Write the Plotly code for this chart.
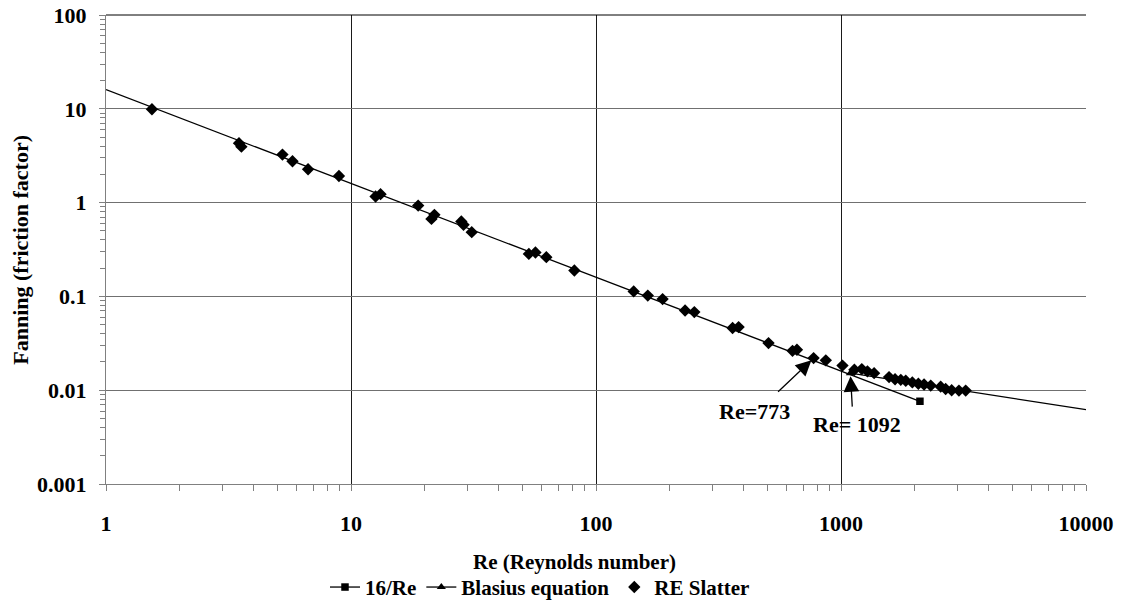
import math
import plotly.graph_objects as go

# Laminar line 16/Re (end point marked)
re_lam = [2100, 1]
f_lam = [0.00762, 16]

# Blasius equation line (start point marked)
re_bla = [1092, 10000]
f_bla = [0.0152, 0.0062]

# RE Slatter measurements
re_slatter = [1.54, 3.49, 3.57, 5.25, 5.77, 6.68, 8.93, 12.6, 13.2, 18.8,
              21.3, 21.9, 28.2, 28.8, 31.1, 53.2, 56.6, 62.7, 81.6, 142.5,
              162.7, 187, 231, 252, 361, 382, 506, 634, 661, 773,
              867, 1014, 1134, 1216, 1282, 1365, 1571, 1662, 1754, 1838,
              1955, 2069, 2183, 2324, 2552, 2674, 2829, 3030, 3228]
f_slatter = [9.88, 4.3, 3.95, 3.25, 2.76, 2.27, 1.92, 1.16, 1.23, 0.93,
             0.67, 0.74, 0.628, 0.58, 0.484, 0.284, 0.294, 0.262, 0.189, 0.113,
             0.102, 0.0936, 0.0708, 0.068, 0.046, 0.0471, 0.0318, 0.0263, 0.027, 0.022,
             0.0208, 0.0183, 0.0165, 0.0168, 0.0159, 0.0152, 0.0138, 0.0131, 0.0129, 0.0126,
             0.0121, 0.0117, 0.0115, 0.0112, 0.0109, 0.0103, 0.0100, 0.0099, 0.0099]

x_ticks = [1, 10, 100, 1000, 10000]
x_labels = ["1", "10", "100", "1000", "10000"]
y_ticks = [0.001, 0.01, 0.1, 1, 10, 100]
y_labels = ["0.001", "0.01", "0.1", "1", "10", "100"]

# (Re, f) pairs called out with arrows
callouts = [("Re=773", 773, 0.022), ("Re= 1092", 1092, 0.0152)]

FONT = "Liberation Serif"
BLACK = "#000000"
HIDDEN = "rgba(0,0,0,0)"

fig = go.Figure()

fig.add_trace(go.Scatter(
    x=re_lam, y=f_lam, name="16/Re", mode="lines+markers",
    line=dict(color=BLACK, width=1.3),
    marker=dict(symbol="square", size=7.5, color=[BLACK, HIDDEN], line=dict(width=0)),
))
fig.add_trace(go.Scatter(
    x=re_bla, y=f_bla, name="Blasius equation", mode="lines+markers",
    line=dict(color=BLACK, width=1.3),
    marker=dict(symbol="triangle-up", size=8, color=[BLACK, HIDDEN], line=dict(width=0)),
))
fig.add_trace(go.Scatter(
    x=re_slatter, y=f_slatter, name="RE Slatter", mode="markers",
    marker=dict(symbol="diamond", size=9.5, color=BLACK, line=dict(width=0)),
))

minor_x = [m * 10 ** d for d in range(0, 4) for m in range(2, 10)]
minor_y = [m * 10 ** d for d in range(-3, 2) for m in range(2, 10)]

tick_font = dict(family=FONT, size=22, color=BLACK, weight="bold")

fig.update_xaxes(
    type="log", range=[0, 4],
    tickmode="array", tickvals=x_ticks, ticktext=x_labels,
    tickfont=tick_font, ticks="outside", ticklen=6, tickcolor="#808080",
    ticklabelstandoff=14,
    showline=True, linecolor="#808080", linewidth=1,
    showgrid=True, gridcolor="#1a1a1a", gridwidth=1, zeroline=False,
    minor=dict(tickmode="array", tickvals=minor_x, ticks="outside", ticklen=6,
               tickcolor="#808080", showgrid=False),
)
fig.update_yaxes(
    type="log", range=[-3, 2],
    tickmode="array", tickvals=y_ticks, ticktext=y_labels,
    tickfont=tick_font, ticks="outside", ticklen=6, tickcolor="#808080",
    ticklabelstandoff=8,
    showline=True, linecolor="#808080", linewidth=1,
    showgrid=True, gridcolor="#707070", gridwidth=1, zeroline=False,
    minor=dict(tickmode="array", tickvals=minor_y, ticks="outside", ticklen=5,
               tickcolor="#808080", showgrid=False),
)

annotations = []
arrow_offsets = [(-37, 35), (2, 35)]
label_offsets = [(-59, 53), (7, 51)]
for (label, re_v, f_v), (ax, ay), (lx, ly) in zip(callouts, arrow_offsets, label_offsets):
    annotations.append(dict(
        x=math.log10(re_v), y=math.log10(f_v),
        xref="x", yref="y", text="", showarrow=True,
        ax=ax, ay=ay, arrowhead=2, arrowsize=2.4, arrowwidth=1.3,
        arrowcolor=BLACK, standoff=3,
    ))
    annotations.append(dict(
        x=math.log10(re_v), y=math.log10(f_v),
        xref="x", yref="y", text=label, showarrow=False,
        xshift=lx, yshift=-ly,
        font=dict(family=FONT, size=22, color=BLACK, weight="bold"),
    ))

annotations.append(dict(
    text="Re (Reynolds number)", xref="paper", yref="paper",
    x=(574 - 106) / 980, y=(484.5 - 563) / 469.5, showarrow=False,
    xanchor="center", yanchor="middle",
    font=dict(family=FONT, size=21, color=BLACK, weight="bold"),
))
annotations.append(dict(
    text="Fanning (friction factor)", xref="paper", yref="paper",
    x=(21 - 106) / 980, y=(484.5 - 250) / 469.5, showarrow=False,
    textangle=-90, xanchor="center", yanchor="middle",
    font=dict(family=FONT, size=22, color=BLACK, weight="bold"),
))

fig.update_layout(
    width=1122, height=605,
    margin=dict(l=106, r=36, t=15, b=120.5, autoexpand=False),
    paper_bgcolor="white", plot_bgcolor="white",
    showlegend=True,
    legend=dict(
        orientation="h", x=(540 - 106) / 980, y=(484.5 - 588) / 469.5,
        xanchor="center", yanchor="middle",
        font=dict(family=FONT, size=21, color=BLACK, weight="bold"),
        itemwidth=30, bgcolor="rgba(0,0,0,0)",
    ),
    annotations=annotations,
    shapes=[dict(type="line", xref="paper", yref="paper", x0=0, x1=1, y0=1, y1=1,
                 line=dict(color=BLACK, width=1))],
)

fig.write_html("out.html")
